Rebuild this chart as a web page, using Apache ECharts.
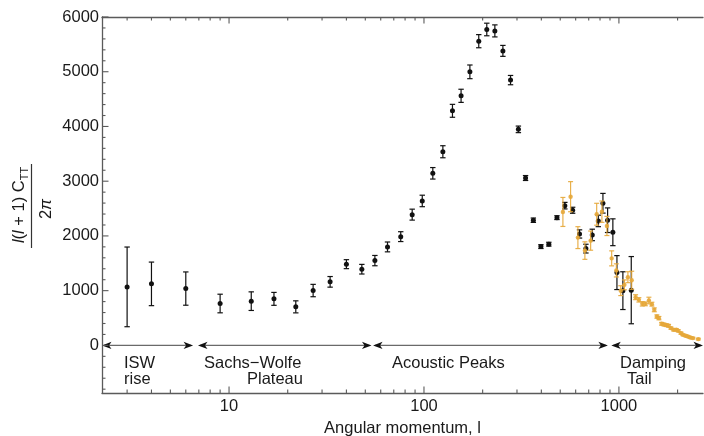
<!DOCTYPE html>
<html>
<head>
<meta charset="utf-8">
<script src="https://cdn.jsdelivr.net/npm/echarts@6.0.0/dist/echarts.min.js"></script>
<style>
  html, body { margin: 0; padding: 0; background: #ffffff; }
  #chart { width: 704px; height: 436px; }
</style>
</head>
<body>
<div id="chart"></div>
<script>
// CMB temperature power spectrum, l(l+1)C_l/2pi versus multipole l

// Binned large-angle measurements (black): multipole, power, 1-sigma error
const wmapL     = [3, 4, 6, 9, 13, 17, 22, 27, 33, 40, 48, 56, 65, 76, 87, 98, 111, 125, 140, 155, 172, 191, 210, 231, 254, 278, 305, 332, 364, 398, 437, 481, 528, 579, 628, 677, 730, 784, 828, 875, 931, 977, 1048, 1157];
const wmapPower = [1069, 1124, 1038, 765, 808, 850, 704, 1002, 1161, 1484, 1392, 1549, 1799, 1987, 2389, 2639, 3144, 3538, 4286, 4560, 4998, 5558, 5772, 5746, 5381, 4847, 3947, 3058, 2287, 1805, 1849, 2334, 2553, 2469, 2036, 1768, 2018, 2274, 2597, 2287, 2067, 1330, 1000, 1009];
const wmapErr   = [728, 398, 304, 170, 170, 118, 110, 113, 97, 82, 88, 94, 90, 90, 100, 105, 105, 110, 118, 120, 125, 120, 115, 110, 100, 85, 60, 45, 40, 35, 35, 35, 60, 55, 75, 80, 105, 105, 180, 225, 245, 310, 345, 614];

// Small-angle measurements (orange): multipole, power, 1-sigma error
const smallL     = [516, 565, 616, 669, 716, 769, 818, 868, 918, 970, 1022, 1067, 1112, 1163, 1218, 1266, 1318, 1366, 1425, 1476, 1519, 1566, 1604, 1656, 1702, 1750, 1798, 1848, 1908, 1970, 2016, 2080, 2130, 2198, 2258, 2324, 2396, 2555];
const smallPower = [2438, 2717, 1969, 1732, 1914, 2396, 2443, 2182, 1590, 1370, 1000, 1106, 1246, 1190, 881, 832, 759, 759, 820, 753, 650, 527, 498, 394, 381, 370, 358, 316, 285, 285, 266, 224, 193, 175, 162, 144, 133, 115];
const smallErr   = [265, 275, 200, 160, 175, 200, 195, 175, 137, 120, 90, 90, 100, 165, 45, 40, 40, 35, 60, 35, 35, 30, 30, 25, 25, 25, 25, 20, 20, 20, 20, 20, 15, 15, 15, 15, 15, 15];

// Axis ranges and ticks
const lMin = 2.23, lMax = 2700;
const powerMin = -870, powerMax = 6000;
const xMajorTicks = [10, 100, 1000];
const xMinorTicks = [3, 4, 5, 6, 7, 8, 9, 20, 30, 40, 50, 60, 70, 80, 90, 200, 300, 400, 500, 600, 700, 800, 900, 2000];
const yMajorTicks = [0, 1000, 2000, 3000, 4000, 5000, 6000];
const yMinorTicks = [-800, -600, -400, -200, 200, 400, 600, 800, 1200, 1400, 1600, 1800, 2200, 2400, 2600, 2800,
                     3200, 3400, 3600, 3800, 4200, 4400, 4600, 4800, 5200, 5400, 5600, 5800];

// Physical regimes marked by double arrows along zero
const regionStart = [2.23, 6.93, 54.8, 914];
const regionEnd   = [6.54, 53.8, 878, 2700];

const FONT = '"Liberation Sans", Arial, Helvetica, sans-serif';
const FRAME = '#5a5a5a';
const TEXT = '#1a1a1a';
const ORANGE = '#e6a738';

function errorBarSeries(name, ls, vals, errs, color, radius, cap, opacity, z) {
  return {
    name: name,
    type: 'custom',
    z: z,
    data: ls.map((l, i) => [l, vals[i], vals[i] - errs[i], vals[i] + errs[i]]),
    encode: { x: 0, y: [1, 2, 3] },
    renderItem: function (params, api) {
      const l = api.value(0);
      const c = api.coord([l, api.value(1)]);
      const lo = api.coord([l, api.value(2)]);
      const hi = api.coord([l, api.value(3)]);
      const st = { stroke: color, lineWidth: 1.2, opacity: opacity };
      return {
        type: 'group',
        children: [
          { type: 'line', shape: { x1: c[0], y1: hi[1], x2: c[0], y2: lo[1] }, style: st },
          { type: 'line', shape: { x1: c[0] - cap, y1: hi[1], x2: c[0] + cap, y2: hi[1] }, style: st },
          { type: 'line', shape: { x1: c[0] - cap, y1: lo[1], x2: c[0] + cap, y2: lo[1] }, style: st },
          { type: 'circle', shape: { cx: c[0], cy: c[1], r: radius }, style: { fill: color, opacity: opacity } }
        ]
      };
    }
  };
}

// Frame ticks (inward) and tick labels
const tickData = [];
xMajorTicks.forEach(v => tickData.push([v, 0, 0]));
xMinorTicks.forEach(v => tickData.push([v, 0, 1]));
yMajorTicks.forEach(v => tickData.push([10, v, 2]));
yMinorTicks.forEach(v => tickData.push([10, v, 3]));

const tickSeries = {
  type: 'custom',
  z: 5,
  silent: true,
  data: tickData,
  encode: { x: 0, y: 1 },
  renderItem: function (params, api) {
    const cs = params.coordSys;
    const kind = api.value(2);
    const p = api.coord([api.value(0), api.value(1)]);
    const st = { stroke: FRAME, lineWidth: 1.1 };
    const children = [];
    if (kind < 2) {
      const len = kind === 0 ? 6.5 : 3.5;
      const x = p[0];
      const yb = cs.y + cs.height;
      children.push({ type: 'line', shape: { x1: x, y1: yb, x2: x, y2: yb - len }, style: st });
      children.push({ type: 'line', shape: { x1: x, y1: cs.y, x2: x, y2: cs.y + len }, style: st });
      if (kind === 0) {
        children.push({ type: 'text', x: x, y: yb + 13,
          style: { text: String(api.value(0)), align: 'center', verticalAlign: 'middle', font: '16.5px ' + FONT, fill: TEXT } });
      }
    } else {
      const len = kind === 2 ? 6.5 : 3.5;
      const y = p[1];
      children.push({ type: 'line', shape: { x1: cs.x, y1: y, x2: cs.x + len, y2: y }, style: st });
      if (kind === 2) {
        children.push({ type: 'text', x: cs.x - 3, y: y,
          style: { text: String(api.value(1)), align: 'right', verticalAlign: 'middle', font: '16.5px ' + FONT, fill: TEXT } });
      }
    }
    return { type: 'group', children: children };
  }
};

// Double-headed arrows at zero power
function arrowHead(x, y, dir) {
  return {
    type: 'polygon',
    shape: { points: [[x, y], [x - dir * 9.5, y - 3.6], [x - dir * 7, y], [x - dir * 9.5, y + 3.6]] },
    style: { fill: '#111111' }
  };
}
const arrowSeries = {
  type: 'custom',
  z: 4,
  silent: true,
  data: regionStart.map((s, i) => [s, 0, regionEnd[i]]),
  encode: { x: [0, 2], y: 1 },
  renderItem: function (params, api) {
    const a = api.coord([api.value(0), api.value(1)]);
    const b = api.coord([api.value(2), api.value(1)]);
    return {
      type: 'group',
      children: [
        { type: 'line', shape: { x1: a[0] + 2, y1: a[1], x2: b[0] - 2, y2: b[1] }, style: { stroke: '#6a6a6a', lineWidth: 1.4 } },
        arrowHead(a[0], a[1], -1),
        arrowHead(b[0], b[1], 1)
      ]
    };
  }
};

const labelStyle = { font: '16.5px ' + FONT, fill: TEXT, verticalAlign: 'middle' };
function label(text, x, y) {
  return { type: 'text', x: x, y: y, silent: true, style: Object.assign({ text: text, align: 'left' }, labelStyle) };
}

const chart = echarts.init(document.getElementById('chart'), null, { renderer: 'canvas' });
chart.setOption({
  animation: false,
  backgroundColor: '#ffffff',
  grid: { left: 102, right: 1, top: 17, bottom: 43, show: false, containLabel: false, outerBoundsMode: 'none' },
  xAxis: [
    {
      type: 'log', logBase: 10, min: lMin, max: lMax, position: 'bottom',
      axisLine: { show: true, onZero: false, lineStyle: { color: FRAME, width: 1.3 } },
      axisTick: { show: false }, axisLabel: { show: false }, splitLine: { show: false },
      name: 'Angular momentum, l', nameLocation: 'middle', nameGap: 27,
      nameTextStyle: { fontFamily: FONT, fontSize: 16.5, color: TEXT }
    },
    {
      type: 'log', logBase: 10, min: lMin, max: lMax, position: 'top',
      axisLine: { show: true, onZero: false, lineStyle: { color: FRAME, width: 1.3 } },
      axisTick: { show: false }, axisLabel: { show: false }, splitLine: { show: false }
    }
  ],
  yAxis: {
    type: 'value', min: powerMin, max: powerMax,
    axisLine: { show: true, onZero: false, lineStyle: { color: FRAME, width: 1.3 } },
    axisTick: { show: false }, axisLabel: { show: false }, splitLine: { show: false }
  },
  series: [
    tickSeries,
    arrowSeries,
    errorBarSeries('Large-angle bins', wmapL, wmapPower, wmapErr, '#111111', 2.5, 2.7, 1, 6),
    errorBarSeries('Small-angle bins', smallL, smallPower, smallErr, ORANGE, 2.2, 2.5, 0.9, 7)
  ],
  graphic: [
    label('ISW', 124, 363),
    label('rise', 124, 379),
    label('Sachs\u2212Wolfe', 204, 363),
    label('Plateau', 247, 379),
    label('Acoustic Peaks', 392, 363),
    label('Damping', 620, 363),
    label('Tail', 627, 379),
    // y-axis title: l(l+1) C_TT over 2 pi, rotated
    {
      type: 'text', x: 19, y: 205, rotation: Math.PI / 2, silent: true,
      style: {
        text: '{i|l}{r|(}{i|l}{r| + 1) C}{s|TT}',
        align: 'center', verticalAlign: 'middle', fill: TEXT,
        rich: {
          i: { fontFamily: FONT, fontSize: 16.5, fontStyle: 'italic', lineHeight: 22, fill: TEXT },
          r: { fontFamily: FONT, fontSize: 16.5, lineHeight: 22, fill: TEXT },
          s: { fontFamily: FONT, fontSize: 11, lineHeight: 10, verticalAlign: 'bottom', fill: TEXT }
        }
      }
    },
    {
      type: 'line', silent: true,
      shape: { x1: 31.5, y1: 164, x2: 31.5, y2: 248 },
      style: { stroke: '#333333', lineWidth: 1.2 }
    },
    {
      type: 'text', x: 46.5, y: 209, rotation: Math.PI / 2, silent: true,
      style: {
        text: '{r|2}{i|\u03c0}',
        align: 'center', verticalAlign: 'middle', fill: TEXT,
        rich: {
          i: { fontFamily: FONT, fontSize: 16.5, fontStyle: 'italic', fill: TEXT },
          r: { fontFamily: FONT, fontSize: 16.5, fill: TEXT }
        }
      }
    }
  ]
});
</script>
</body>
</html>
